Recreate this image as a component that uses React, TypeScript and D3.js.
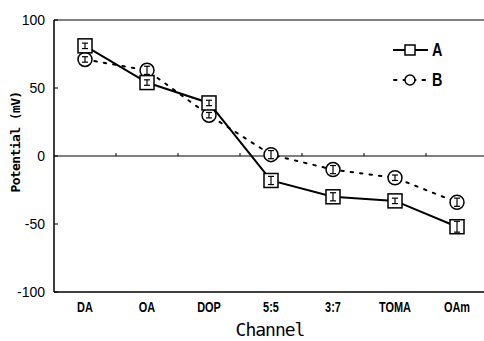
import React from "react";
import * as d3 from "d3";

const channels = ["DA", "OA", "DOP", "5:5", "3:7", "TOMA", "OAm"];
const seriesA = [81, 54, 39, -18, -30, -33, -52];
const seriesB = [71, 63, 30, 1, -10, -16, -34];
const errA = [2, 2, 2, 3, 3, 2, 4];
const errB = [2, 3, 2, 3, 3, 2, 3];
const yTicks = [100, 50, 0, -50, -100];

const width = 484;
const height = 341;
const left = 54;
const right = 488;
const top = 20;
const bottom = 292;

const labelFont = "'Liberation Sans', Arial, sans-serif";

const App = () => {
  const x = d3.scaleBand<string>().domain(channels).range([left, right]);
  const y = d3.scaleLinear().domain([-100, 100]).range([bottom, top]);
  const cx = (c: string) => (x(c) as number) + x.bandwidth() / 2;

  const lineGen = d3
    .line<number>()
    .x((_, i) => cx(channels[i]))
    .y((d) => y(d));

  const errBar = (xc: number, v: number, e: number, key: string) => (
    <g key={key} stroke="black" strokeWidth={1.2}>
      <line x1={xc} x2={xc} y1={y(v + e)} y2={y(v - e)} />
      <line x1={xc - 3} x2={xc + 3} y1={y(v + e)} y2={y(v + e)} />
      <line x1={xc - 3} x2={xc + 3} y1={y(v - e)} y2={y(v - e)} />
    </g>
  );

  return (
    <svg
      width={width}
      height={height}
      style={{ position: "absolute", left: 0, top: 0, background: "white" }}
    >
      {/* frame */}
      <line x1={left} x2={width} y1={top} y2={top} stroke="black" strokeWidth={1} />
      <line x1={left} x2={left} y1={top} y2={bottom} stroke="black" strokeWidth={1.5} />
      <line x1={left} x2={width} y1={bottom} y2={bottom} stroke="black" strokeWidth={1.5} />
      {/* zero line */}
      <line x1={left} x2={width} y1={y(0)} y2={y(0)} stroke="black" strokeWidth={1} />
      {channels.slice(1).map((c) => (
        <line
          key={c}
          x1={x(c) as number}
          x2={x(c) as number}
          y1={y(0) - 3}
          y2={y(0)}
          stroke="black"
        />
      ))}

      {/* y axis */}
      {yTicks.map((t) => (
        <g key={t}>
          <line x1={left} x2={left + 4} y1={y(t)} y2={y(t)} stroke="black" />
          <text
            x={left - 9}
            y={y(t)}
            dy="0.35em"
            textAnchor="end"
            fontSize={14}
            fontFamily={labelFont}
          >
            {t}
          </text>
        </g>
      ))}
      <text
        transform="translate(20, 142) rotate(-90)"
        textAnchor="middle"
        fontSize={13}
        fontWeight="bold"
        fontFamily="'DejaVu Sans Mono', monospace"
        letterSpacing={-0.6}
      >
        Potential (mV)
      </text>

      {/* x axis */}
      {channels.map((c) => (
        <g key={c} transform={`translate(${cx(c)}, ${bottom + 20}) scale(0.78, 1)`}>
          <text
            x={0}
            y={0}
            textAnchor="middle"
            fontSize={14}
            fontWeight="bold"
            fontFamily={labelFont}
          >
            {c}
          </text>
        </g>
      ))}
      <text
        x={270}
        y={336}
        textAnchor="middle"
        fontSize={18}
        fontFamily="'DejaVu Sans Mono', monospace"
        letterSpacing={-1}
      >
        Channel
      </text>

      {/* series B */}
      <path
        d={lineGen(seriesB) ?? ""}
        fill="none"
        stroke="black"
        strokeWidth={2}
        strokeDasharray="2.5 7"
        strokeLinecap="round"
      />
      {/* series A */}
      <path d={lineGen(seriesA) ?? ""} fill="none" stroke="black" strokeWidth={2} />

      {seriesB.map((v, i) => (
        <g key={"b" + i}>
          <circle cx={cx(channels[i])} cy={y(v)} r={7} fill="white" stroke="black" strokeWidth={1.5} />
          {errBar(cx(channels[i]), v, errB[i], "eb" + i)}
        </g>
      ))}
      {seriesA.map((v, i) => (
        <g key={"a" + i}>
          <rect
            x={cx(channels[i]) - 7}
            y={y(v) - 7}
            width={14}
            height={14}
            fill="white"
            stroke="black"
            strokeWidth={1.5}
          />
          {errBar(cx(channels[i]), v, errA[i], "ea" + i)}
        </g>
      ))}

      {/* legend */}
      <line x1={393} x2={428} y1={50} y2={50} stroke="black" strokeWidth={2} />
      <rect x={405} y={45} width={10} height={10} fill="white" stroke="black" strokeWidth={1.5} />
      <g transform="translate(432, 56) scale(0.8, 1)">
        <text fontSize={18} fontFamily={labelFont} fontWeight="bold">
          A
        </text>
      </g>
      <line
        x1={394}
        x2={428}
        y1={80}
        y2={80}
        stroke="black"
        strokeWidth={2}
        strokeDasharray="2.5 7"
        strokeLinecap="round"
      />
      <circle cx={410} cy={80} r={5} fill="white" stroke="black" strokeWidth={1.5} />
      <g transform="translate(432, 86) scale(0.8, 1)">
        <text fontSize={18} fontFamily={labelFont} fontWeight="bold">
          B
        </text>
      </g>
    </svg>
  );
};

export default App;
